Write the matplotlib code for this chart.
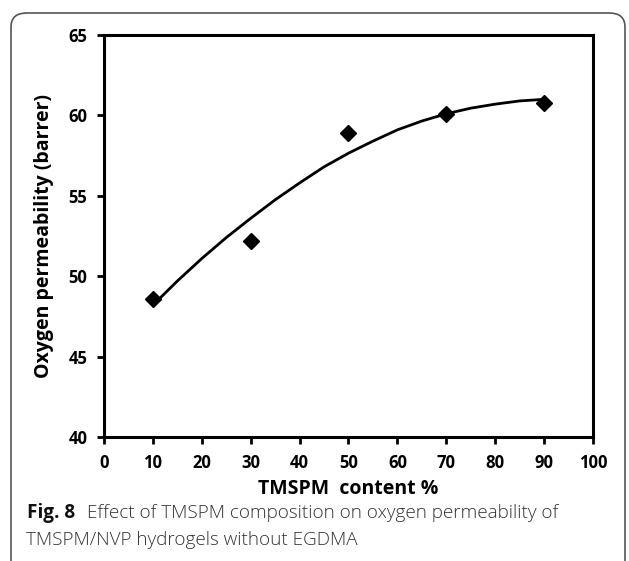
import matplotlib.pyplot as plt
from matplotlib.patches import FancyBboxPatch

# measured points
tmspm = [10, 30, 50, 70, 90]
perm = [48.6, 52.2, 58.9, 60.1, 60.8]

# trend line
trend_x = [10, 15, 20, 25, 30, 35, 40, 45, 50, 55, 60, 65, 70, 75, 80, 85, 90]
trend_y = [48.2, 49.7, 51.1, 52.4, 53.6, 54.75, 55.8, 56.8, 57.65, 58.4, 59.1, 59.65, 60.1, 60.45, 60.7, 60.9, 61.0]

xticks = [0, 10, 20, 30, 40, 50, 60, 70, 80, 90, 100]
yticks = [40, 45, 50, 55, 60, 65]

fig = plt.figure(figsize=(6.29, 5.61), dpi=100)
W, H = 629, 561
ax = fig.add_axes([104 / W, 1 - 437 / H, (593 - 104) / W, (437 - 35) / H])

ax.plot(trend_x, trend_y, color="black", lw=2, solid_joinstyle="round")
ax.plot(tmspm, perm, "D", color="black", markersize=8.5, ls="none")

ax.set_xlim(0, 100)
ax.set_ylim(40, 65)
ax.set_xticks(xticks)
ax.set_yticks(yticks)
for s in ax.spines.values():
    s.set_linewidth(2.2)
ax.tick_params(direction="out", length=5, width=2, labelsize=12, pad=7)
for lab in ax.get_xticklabels() + ax.get_yticklabels():
    lab.set_fontweight("bold")
    lab.set_family("Open Sans")

ax.set_xlabel("TMSPM  content %", fontsize=14, fontweight="bold", family="Open Sans", labelpad=5)
ax.set_ylabel("Oxygen permeability (barrer)", fontsize=14, fontweight="bold", family="Open Sans", labelpad=10)

# caption
fig.text(27 / W, 1 - 513 / H, "Fig. 8", fontsize=13.6, fontweight="bold", family="Open Sans",
         color="#111111", va="center")
fig.text(87 / W, 1 - 513 / H, "Effect of TMSPM composition on oxygen permeability of",
         fontsize=13.6, family="Open Sans", fontweight="light", color="#333333", va="center")
fig.text(26 / W, 1 - 540 / H, "TMSPM/NVP hydrogels without EGDMA",
         fontsize=13.6, family="Open Sans", fontweight="light", color="#333333", va="center")

# rounded frame around the figure
box = FancyBboxPatch((11 / W, -0.05), 614 / W, 1.05 - 13 / H,
                     boxstyle="round,pad=0,rounding_size=0.025",
                     transform=fig.transFigure, fill=False, ec="#555555", lw=1.2)
fig.patches.append(box)

fig.savefig("out.png", dpi=100)
